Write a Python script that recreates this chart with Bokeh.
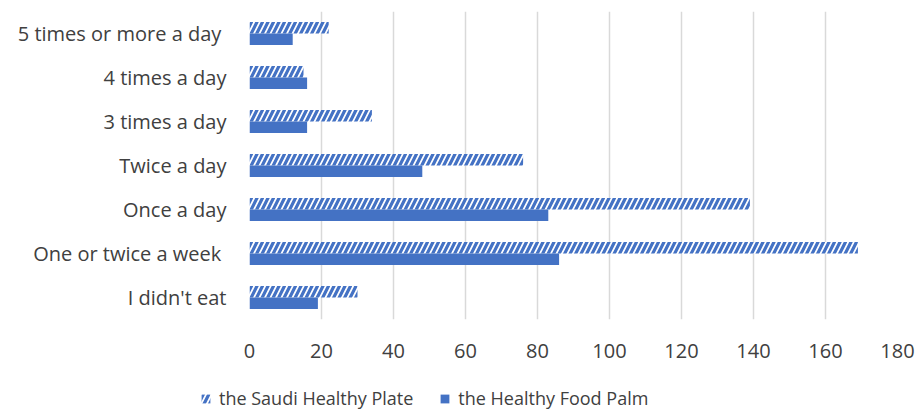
from bokeh.plotting import figure
from bokeh.models import FactorRange, Range1d, Legend, LegendItem, FixedTicker
from bokeh.transform import dodge
from bokeh.layouts import column, row
from bokeh.embed import file_html
from bokeh.resources import INLINE

categories = ["I didn't eat", "One or twice a week ", "Once a day", "Twice a day",
              "3 times a day", "4 times a day", "5 times or more  a day"]
saudi_plate = [30, 169, 139, 76, 34, 15, 22]
food_palm = [19, 86, 83, 48, 16, 16, 12]
x_ticks = [0, 20, 40, 60, 80, 100, 120, 140, 160, 180]
series_names = ["the Saudi Healthy Plate", "the Healthy Food Palm"]

BLUE = "#4472C4"
FONT = "Open Sans"
TXT = "#404040"
HATCH = dict(fill_color="white", line_color=None, hatch_pattern="/", hatch_color=BLUE,
             hatch_scale=11, hatch_weight=3.2)
SOLID = dict(fill_color=BLUE, line_color=None)

p = figure(width=919, height=374, output_backend="svg", toolbar_location=None,
           y_range=FactorRange(factors=categories, range_padding=0),
           x_range=Range1d(0, 180),
           min_border_left=249, min_border_right=22, min_border_top=11, min_border_bottom=55)
p.outline_line_color = None

data = dict(cat=categories, saudi=saudi_plate, palm=food_palm)

p.hbar(y=dodge("cat", 0.13, range=p.y_range), right="saudi", left=0, height=0.26,
       source=data, **HATCH)
p.hbar(y=dodge("cat", -0.13, range=p.y_range), right="palm", left=0, height=0.26,
       source=data, **SOLID)

p.xgrid.ticker = FixedTicker(ticks=x_ticks)
p.xgrid.grid_line_color = "#d9d9d9"
p.xgrid.grid_line_width = 1.5
p.ygrid.grid_line_color = None

p.xaxis.ticker = FixedTicker(ticks=x_ticks)
p.xaxis.axis_line_color = None
p.xaxis.major_tick_line_color = None
p.xaxis.minor_tick_line_color = None
p.xaxis.major_label_standoff = 18
p.xaxis.major_label_text_font = FONT
p.xaxis.major_label_text_font_size = "20px"
p.xaxis.major_label_text_color = TXT

p.yaxis.axis_line_color = None
p.yaxis.major_tick_line_color = None
p.yaxis.minor_tick_line_color = None
p.yaxis.major_label_standoff = 17
p.yaxis.major_label_text_font = FONT
p.yaxis.major_label_text_font_size = "20px"
p.yaxis.major_label_text_color = TXT

# legend strip (swatch renderers sit outside the strip's visible range)
p2 = figure(width=919, height=36, output_backend="svg", toolbar_location=None,
            x_range=Range1d(0, 1), y_range=Range1d(0, 1),
            x_axis_location=None, y_axis_location=None, min_border=0)
p2.outline_line_color = None
p2.xgrid.grid_line_color = None
p2.ygrid.grid_line_color = None
swatch = dict(y=[-5], right=[0])
l1 = p2.hbar(y="y", right="right", left=0, height=0.1, source=swatch, **HATCH)
l2 = p2.hbar(y="y", right="right", left=0, height=0.1, source=swatch, **SOLID)

legend = Legend(items=[LegendItem(label=series_names[0], renderers=[l1]),
                       LegendItem(label=series_names[1], renderers=[l2])],
                orientation="horizontal", location=(200, 0),
                label_text_font=FONT, label_text_font_size="18px", label_text_color=TXT,
                glyph_width=11, glyph_height=11, spacing=26, label_standoff=8,
                border_line_color=None, background_fill_alpha=0, padding=0, margin=0)
p2.add_layout(legend)

layout = column(p, row(p2), spacing=0)
open("out.html", "w").write(file_html(layout, INLINE))
